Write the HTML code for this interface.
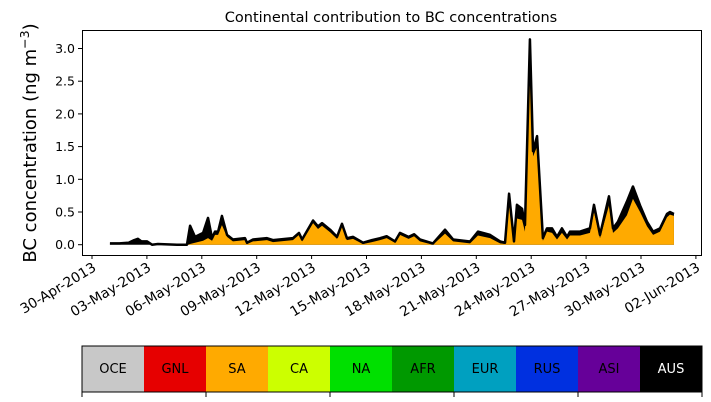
<!DOCTYPE html>
<html><head><meta charset="utf-8"><style>
body{margin:0;background:#fff;}
svg{display:block;font-family:"DejaVu Sans","Liberation Sans",sans-serif;}
</style></head><body>
<svg id="c" width="711" height="402" viewBox="0 0 711 402">
<text x="391" y="22" font-size="14.5" text-anchor="middle">Continental contribution to BC concentrations</text>
<text transform="translate(36,143) rotate(-90)" font-size="18" text-anchor="middle">BC concentration (ng m<tspan dy="-7" font-size="12.5">−3</tspan><tspan dy="7">)</tspan></text>
<g id="plot"></g>
<rect x="82.5" y="30.5" width="619" height="225" fill="none" stroke="#000" stroke-width="1"/>
<g id="yt"></g>
<g id="xt"></g>
<g id="cb"></g>
</svg>
<script>
const days=[0.98,1.5,2.0,2.3,2.51,2.7,3.01,3.28,3.6,4.64,5.19,5.36,5.63,6.07,6.34,6.56,6.72,6.89,7.10,7.38,7.70,8.36,8.47,8.80,9.56,9.89,10.98,11.31,11.48,12.08,12.35,12.57,13.01,13.39,13.66,13.93,14.26,14.81,15.3,15.74,16.1,16.56,16.83,17.3,17.6,17.92,18.63,19.29,19.73,20.66,21.09,21.75,22.30,22.57,22.79,23.06,23.22,23.50,23.66,23.93,24.10,24.32,24.64,24.86,25.14,25.41,25.68,25.96,26.12,26.67,27.21,27.43,27.76,28.25,28.47,28.74,29.23,29.56,29.95,30.33,30.66,31.04,31.42,31.58,31.80];
const totalVals=[0.02,0.02,0.03,0.07,0.09,0.05,0.05,0.0,0.01,0.0,0.0,0.29,0.12,0.18,0.41,0.1,0.2,0.2,0.44,0.15,0.08,0.1,0.03,0.08,0.1,0.07,0.1,0.18,0.08,0.37,0.28,0.33,0.23,0.12,0.32,0.1,0.12,0.03,0.07,0.1,0.13,0.05,0.18,0.12,0.16,0.08,0.02,0.23,0.08,0.05,0.2,0.15,0.05,0.03,0.78,0.05,0.61,0.55,0.3,3.14,1.43,1.66,0.1,0.25,0.25,0.12,0.25,0.12,0.2,0.2,0.25,0.61,0.15,0.74,0.25,0.35,0.66,0.89,0.6,0.35,0.2,0.25,0.47,0.5,0.47];
const saVals=[0,0,0,0,0,0,0,0,0,0,0,0.01,0.03,0.06,0.1,0.06,0.15,0.15,0.3,0.12,0.05,0.07,0.01,0.05,0.07,0.04,0.07,0.15,0.05,0.33,0.24,0.29,0.19,0.09,0.28,0.07,0.09,0.01,0.04,0.07,0.1,0.03,0.15,0.09,0.13,0.05,0.0,0.17,0.05,0.02,0.14,0.1,0.02,0.01,0.65,0.03,0.4,0.38,0.2,2.9,1.35,1.5,0.06,0.2,0.18,0.08,0.18,0.08,0.14,0.14,0.18,0.5,0.1,0.6,0.18,0.25,0.45,0.7,0.5,0.28,0.15,0.2,0.42,0.46,0.44];
const yTicks=[0,0.5,1,1.5,2,2.5,3];
const xTickLabels=["30-Apr-2013","03-May-2013","06-May-2013","09-May-2013","12-May-2013","15-May-2013","18-May-2013","21-May-2013","24-May-2013","27-May-2013","30-May-2013","02-Jun-2013"];
const regions=["OCE","GNL","SA","CA","NA","AFR","EUR","RUS","ASI","AUS"];
const regionColors=["#c8c8c8","#e60000","#ffaa00","#ccff00","#00e000","#009900","#00a0c0","#0030e0","#660099","#000000"];
const NS="http://www.w3.org/2000/svg";
const X=d=>92+18.3*d, Y=v=>244.7-65.4*v;
function mk(t,a,p){const e=document.createElementNS(NS,t);for(const k in a)e.setAttribute(k,a[k]);p.appendChild(e);return e;}
const plot=document.getElementById('plot');
function area(vals){let s=`M${X(days[0])},${Y(0)}`;days.forEach((d,i)=>s+=`L${X(d)},${Y(vals[i])}`);return s+`L${X(days[days.length-1])},${Y(0)}Z`;}
const aT=mk('path',{d:area(totalVals),fill:'#000'},plot);


const aS=mk('path',{d:area(saVals),fill:'#ffaa00'},plot);


const ln=mk('polyline',{points:days.map((d,i)=>X(d)+','+Y(totalVals[i])).join(' '),fill:'none',stroke:'#000','stroke-width':2.5,'stroke-linejoin':'round'},plot);


const yt=document.getElementById('yt');
yTicks.forEach(v=>{const y=Y(v);mk('line',{x1:78,x2:82,y1:y,y2:y,stroke:'#000'},yt);
const t=mk('text',{x:75,y:y+4.5,'font-size':12.5,'text-anchor':'end'},yt);t.textContent=v.toFixed(1);

});
const xt=document.getElementById('xt');
xTickLabels.forEach((l,i)=>{const x=X(i*3);mk('line',{x1:x,x2:x,y1:255,y2:259,stroke:'#000'},xt);
const t=mk('text',{transform:`translate(${x+5},270) rotate(-31)`,'font-size':13.8,'text-anchor':'end'},xt);t.textContent=l;

});
const cb=document.getElementById('cb');const w=62;
regions.forEach((r,i)=>{const x=82+i*w;const rc=mk('rect',{x:x,y:346,width:w,height:46,fill:regionColors[i]},cb);


const t=mk('text',{x:x+w/2,y:373,'font-size':13,'text-anchor':'middle',fill:r==='AUS'?'#fff':'#000'},cb);t.textContent=r;

});
mk('rect',{x:82,y:346,width:620,height:46,fill:'none',stroke:'#000'},cb);
for(let i=0;i<=5;i++){const x=82+i*124;mk('line',{x1:x,x2:x,y1:392,y2:397,stroke:'#000'},cb);}
</script>
</body></html>
